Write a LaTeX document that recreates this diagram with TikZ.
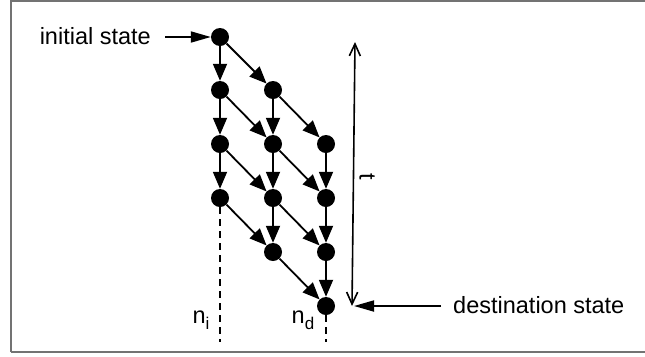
\documentclass[tikz,border=0pt]{standalone}
\usepackage{fontspec}
\setmainfont{Liberation Sans}
\usetikzlibrary{arrows.meta}
\begin{document}
\begin{tikzpicture}[x=1bp,y=-1bp,
  st/.style={circle,fill=black,inner sep=0pt,minimum size=18bp},
  edge/.style={line width=1.8bp,-{Triangle[length=17bp,width=14bp]}},
  pointer/.style={line width=1.8bp,-{Triangle[length=20bp,width=11bp]}},
  lbl/.style={font=\fontsize{23.5bp}{28bp}\selectfont,inner sep=0pt},
  dashline/.style={line width=1.6bp,dash pattern=on 7bp off 5bp},
  frame/.style={draw=black!55,line width=1.8bp}]
\useasboundingbox (0,0) rectangle (645,356);
\draw[frame] (11,352) -- (11,1) -- (650,1);
\draw[frame] (11,352) -- (650,352);
% states
\foreach \r/\y in {0/37,1/90,2/144,3/198}{\node[st] (a\r) at (220,\y) {};}
\foreach \r/\y in {1/90,2/144,3/198,4/252}{\node[st] (b\r) at (273,\y) {};}
\foreach \r/\y in {2/144,3/198,4/252,5/306}{\node[st] (c\r) at (326,\y) {};}
% vertical edges
\draw[edge] (a0) -- (a1); \draw[edge] (a1) -- (a2); \draw[edge] (a2) -- (a3);
\draw[edge] (b1) -- (b2); \draw[edge] (b2) -- (b3); \draw[edge] (b3) -- (b4);
\draw[edge] (c2) -- (c3); \draw[edge] (c3) -- (c4); \draw[edge] (c4) -- (c5);
% diagonal edges
\draw[edge] (a0) -- (b1); \draw[edge] (a1) -- (b2); \draw[edge] (a2) -- (b3); \draw[edge] (a3) -- (b4);
\draw[edge] (b1) -- (c2); \draw[edge] (b2) -- (c3); \draw[edge] (b3) -- (c4); \draw[edge] (b4) -- (c5);
% dashed lines
\coordinate (ni) at (220,342);
\coordinate (nd) at (326,342);
\draw[dashline] (a3) -- (ni);
\draw[dashline] (c5) -- (nd);
\node[lbl] (lni) at (201,320) {n\raisebox{-6bp}{\fontsize{17bp}{20bp}\selectfont i}};
\node[lbl] (lnd) at (303,320) {n\raisebox{-6bp}{\fontsize{17bp}{20bp}\selectfont d}};
% initial state
\node[lbl,anchor=east] (init) at (151,36) {initial state};
\coordinate (istart) at (165,37);
\draw[pointer] (istart) -- (a0);
% destination state
\node[lbl,anchor=west] (dest) at (453,305) {destination state};
\coordinate (dstart) at (441,306);
\coordinate (dend) at (354,306);
\draw[pointer] (dstart) -- (dend);
% t arrow
\coordinate (ttop) at (355,42);
\coordinate (tbot) at (352,306);
\draw[line width=1.6bp,{Straight Barb[length=12bp,width=11bp]}-{Straight Barb[length=12bp,width=11bp]}] (ttop) -- (tbot);
\node[lbl,rotate=-90] (tl) at (367,177) {t};
\end{tikzpicture}
\end{document}
